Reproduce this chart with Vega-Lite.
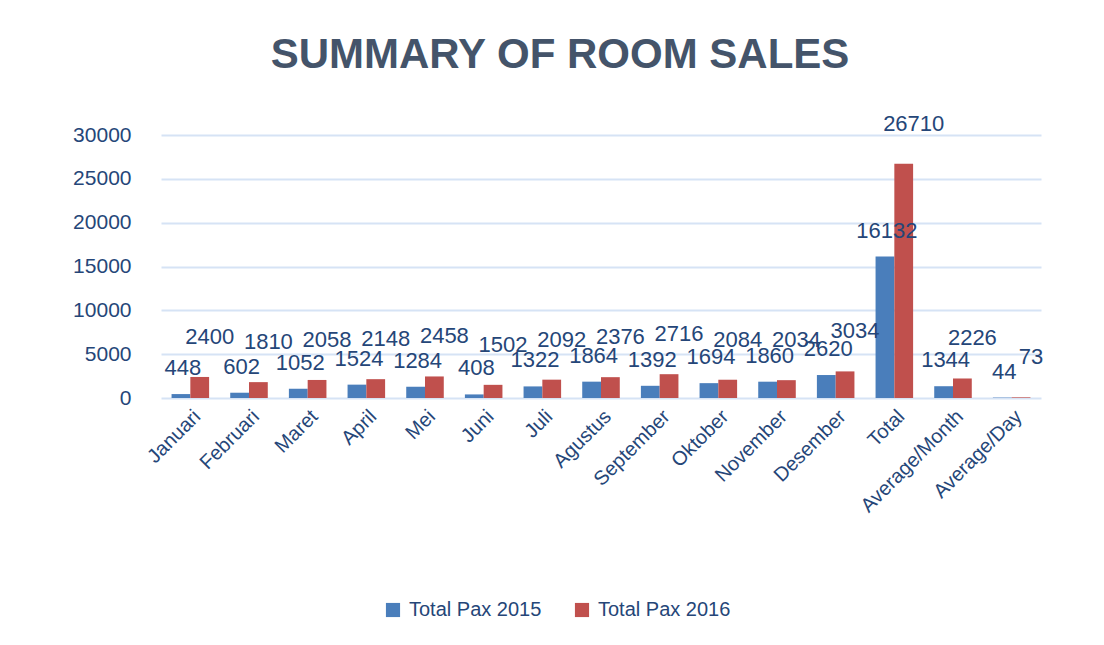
{
  "$schema": "https://vega.github.io/schema/vega-lite/v6.json",
  "autosize": "none",
  "width": 880,
  "height": 263,
  "padding": {"left": 161, "top": 135, "right": 63, "bottom": 247},
  "background": "white",
  "config": {
    "view": {"stroke": null},
    "font": "Liberation Sans"
  },
  "title": {
    "text": "SUMMARY OF ROOM SALES",
    "fontSize": 42,
    "fontWeight": "bold",
    "color": "#44546A",
    "font": "Liberation Sans",
    "anchor": "middle",
    "dx": -41,
    "offset": 36
  },
  "data": {
    "values": [
      {"month": "Januari", "series": "Total Pax 2015", "value": 448},
      {"month": "Januari", "series": "Total Pax 2016", "value": 2400},
      {"month": "Februari", "series": "Total Pax 2015", "value": 602},
      {"month": "Februari", "series": "Total Pax 2016", "value": 1810},
      {"month": "Maret", "series": "Total Pax 2015", "value": 1052},
      {"month": "Maret", "series": "Total Pax 2016", "value": 2058},
      {"month": "April", "series": "Total Pax 2015", "value": 1524},
      {"month": "April", "series": "Total Pax 2016", "value": 2148},
      {"month": "Mei", "series": "Total Pax 2015", "value": 1284},
      {"month": "Mei", "series": "Total Pax 2016", "value": 2458},
      {"month": "Juni", "series": "Total Pax 2015", "value": 408},
      {"month": "Juni", "series": "Total Pax 2016", "value": 1502},
      {"month": "Juli", "series": "Total Pax 2015", "value": 1322},
      {"month": "Juli", "series": "Total Pax 2016", "value": 2092},
      {"month": "Agustus", "series": "Total Pax 2015", "value": 1864},
      {"month": "Agustus", "series": "Total Pax 2016", "value": 2376},
      {"month": "September", "series": "Total Pax 2015", "value": 1392},
      {"month": "September", "series": "Total Pax 2016", "value": 2716},
      {"month": "Oktober", "series": "Total Pax 2015", "value": 1694},
      {"month": "Oktober", "series": "Total Pax 2016", "value": 2084},
      {"month": "November", "series": "Total Pax 2015", "value": 1860},
      {"month": "November", "series": "Total Pax 2016", "value": 2034},
      {"month": "Desember", "series": "Total Pax 2015", "value": 2620},
      {"month": "Desember", "series": "Total Pax 2016", "value": 3034},
      {"month": "Total", "series": "Total Pax 2015", "value": 16132},
      {"month": "Total", "series": "Total Pax 2016", "value": 26710},
      {"month": "Average/Month", "series": "Total Pax 2015", "value": 1344},
      {"month": "Average/Month", "series": "Total Pax 2016", "value": 2226},
      {"month": "Average/Day", "series": "Total Pax 2015", "value": 44},
      {"month": "Average/Day", "series": "Total Pax 2016", "value": 73}
    ]
  },
  "encoding": {
    "x": {
      "field": "month",
      "type": "nominal",
      "sort": null,
      "scale": {"paddingInner": 0.36, "paddingOuter": 0.18},
      "axis": {
        "title": null,
        "labelAngle": -45,
        "labelFontSize": 20,
        "labelColor": "#254678",
        "labelFont": "Liberation Sans",
        "domain": false,
        "ticks": false,
        "labelPadding": 8
      }
    },
    "xOffset": {"field": "series", "type": "nominal"},
    "y": {
      "field": "value",
      "type": "quantitative",
      "scale": {"domain": [0, 30000]},
      "axis": {
        "title": null,
        "values": [0, 5000, 10000, 15000, 20000, 25000, 30000],
        "format": "d",
        "labelFontSize": 21,
        "labelColor": "#254678",
        "labelPadding": 30,
        "domain": false,
        "ticks": false,
        "gridColor": "#D6E3F5",
        "gridWidth": 2
      }
    }
  },
  "layer": [
    {
      "mark": {"type": "bar"},
      "encoding": {
        "color": {
          "field": "series",
          "type": "nominal",
          "scale": {"domain": ["Total Pax 2015", "Total Pax 2016"], "range": ["#4A7EBB", "#C0504D"]},
          "legend": {
            "title": null,
            "orient": "none",
            "direction": "horizontal",
            "legendX": 222,
            "legendY": 465,
            "symbolType": "square",
            "symbolSize": 200,
            "symbolStrokeWidth": 0,
            "labelFontSize": 20,
            "labelColor": "#254678",
            "columnPadding": 30,
            "labelOffset": 6
          }
        }
      }
    },
    {
      "transform": [{"filter": "datum.series === 'Total Pax 2015'"}],
      "mark": {"type": "text", "fontSize": 22, "color": "#254678", "dy": -14, "dx": 2, "baseline": "bottom"},
      "encoding": {"text": {"field": "value", "type": "quantitative", "format": "d"}}
    },
    {
      "transform": [{"filter": "datum.series === 'Total Pax 2016'"}],
      "mark": {"type": "text", "fontSize": 22, "color": "#254678", "dy": -28, "dx": 10, "baseline": "bottom"},
      "encoding": {"text": {"field": "value", "type": "quantitative", "format": "d"}}
    }
  ]
}
